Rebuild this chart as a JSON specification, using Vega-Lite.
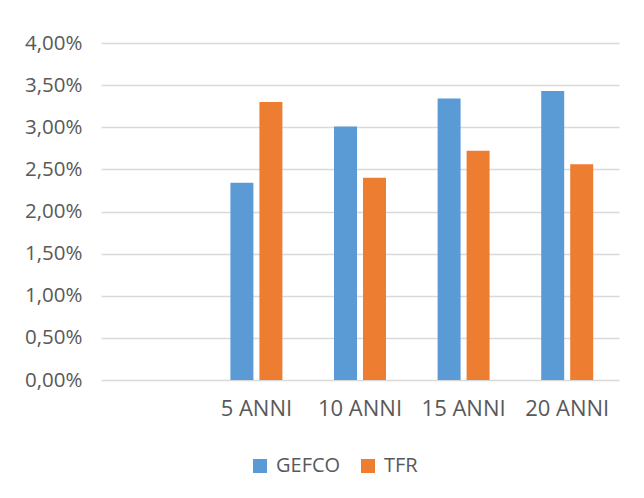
{
  "$schema": "https://vega.github.io/schema/vega-lite/v6.json",
  "width": 518,
  "height": 337,
  "autosize": {"type": "none"},
  "padding": {"left": 101, "top": 43, "right": 25, "bottom": 118},
  "background": "white",
  "data": {
    "values": [
      {"periodo": "5 ANNI", "serie": "GEFCO", "valore": 0.0234},
      {"periodo": "5 ANNI", "serie": "TFR", "valore": 0.0330},
      {"periodo": "10 ANNI", "serie": "GEFCO", "valore": 0.0301},
      {"periodo": "10 ANNI", "serie": "TFR", "valore": 0.0240},
      {"periodo": "15 ANNI", "serie": "GEFCO", "valore": 0.0334},
      {"periodo": "15 ANNI", "serie": "TFR", "valore": 0.0272},
      {"periodo": "20 ANNI", "serie": "GEFCO", "valore": 0.0343},
      {"periodo": "20 ANNI", "serie": "TFR", "valore": 0.0256}
    ]
  },
  "mark": {"type": "bar"},
  "encoding": {
    "x": {
      "field": "periodo",
      "type": "nominal",
      "sort": null,
      "title": null,
      "scale": {"domain": [" ", "5 ANNI", "10 ANNI", "15 ANNI", "20 ANNI"], "paddingInner": 0, "paddingOuter": 0},
      "axis": {
        "domain": false,
        "ticks": false,
        "labelAngle": 0,
        "labelFont": "Open Sans",
        "labelFontSize": 22,
        "labelColor": "#595959",
        "labelPadding": 18
      }
    },
    "xOffset": {
      "field": "serie",
      "type": "nominal",
      "scale": {"domain": ["GEFCO", "TFR"], "paddingInner": 0.207, "paddingOuter": 0.89}
    },
    "y": {
      "field": "valore",
      "type": "quantitative",
      "title": null,
      "scale": {"domain": [0, 0.04], "nice": false},
      "axis": {
        "values": [0, 0.005, 0.01, 0.015, 0.02, 0.025, 0.03, 0.035, 0.04],
        "labelExpr": "replace(format(datum.value, '.2%'), '.', ',')",
        "domain": false,
        "ticks": false,
        "labelFont": "Open Sans",
        "labelFontSize": 20.5,
        "labelColor": "#595959",
        "labelPadding": 19,
        "gridColor": "#d9d9d9",
        "gridWidth": 1.5
      }
    },
    "color": {
      "field": "serie",
      "type": "nominal",
      "scale": {"domain": ["GEFCO", "TFR"], "range": ["#5B9BD5", "#ED7D31"]},
      "legend": {
        "title": null,
        "orient": "none",
        "direction": "horizontal",
        "legendX": 149,
        "legendY": 413,
        "symbolType": "square",
        "symbolSize": 196,
        "symbolStrokeWidth": 0,
        "labelFont": "Open Sans",
        "labelFontSize": 20,
        "labelColor": "#595959",
        "labelOffset": 6,
        "columnPadding": 17
      }
    }
  },
  "config": {"view": {"stroke": null}}
}
